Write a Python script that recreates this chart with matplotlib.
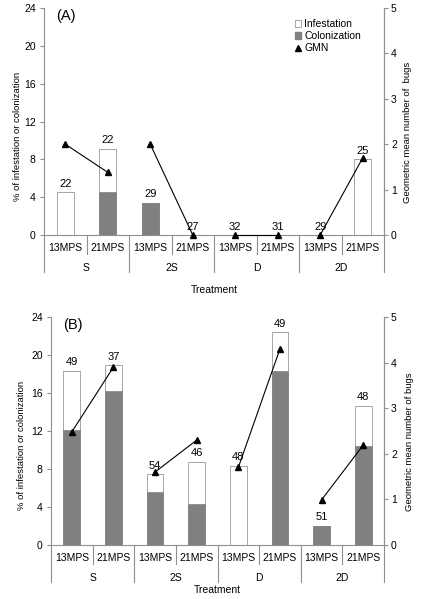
import numpy as np
import matplotlib
matplotlib.use("Agg")
import matplotlib.pyplot as plt
from matplotlib.patches import Patch
from matplotlib.lines import Line2D

plt.rcParams['font.family'] = ['Liberation Sans', 'DejaVu Sans']

groups = ["S", "2S", "D", "2D"]
stages = ["13MPS", "21MPS"]

# panel A
infest_a = [4.5, 9.1, 3.4, 0, 0, 0, 0, 8.0]
colon_a = [0, 4.5, 3.4, 0, 0, 0, 0, 0]
gmn_a = [2.0, 1.38, 2.0, 0, 0, 0, 0, 1.7]
n_a = [22, 22, 29, 27, 32, 31, 29, 25]

# panel B
infest_b = [18.35, 18.95, 7.45, 8.75, 8.35, 22.4, 2.05, 14.65]
colon_b = [12.15, 16.25, 5.6, 4.3, 0, 18.35, 2.05, 10.45]
gmn_b = [2.48, 3.9, 1.6, 2.3, 1.7, 4.3, 0.99, 2.19]
n_b = [49, 37, 54, 46, 48, 49, 51, 48]

W, H = 422, 599
grey = "#808080"
edge = "#a6a6a6"
axc = "#909090"

fig = plt.figure(figsize=(W / 100, H / 100), dpi=100)


def panel(rect_px, infest, colon, gmn, nlab, tag, rlabel, ylab_px, rlab_px, treat_dy, legend=False):
    x0, y_top, x1, y_bot = rect_px
    ax = fig.add_axes([x0 / W, (H - y_bot) / H, (x1 - x0) / W, (y_bot - y_top) / H])
    ax_h = y_bot - y_top
    x = np.arange(len(infest))
    ax.bar(x, infest, width=0.4, color="white", edgecolor=edge, linewidth=0.7, zorder=2)
    ax.bar(x, colon, width=0.4, color=grey, edgecolor=grey, linewidth=0.5, zorder=3)
    for xi, top, lab in zip(x, infest, nlab):
        ax.annotate(str(lab), (xi, top), xytext=(0, 2.5), textcoords="offset points",
                    ha="center", va="bottom", fontsize=8, zorder=6)
    ax.set_xlim(-0.5, len(infest) - 0.5)
    ax.set_ylim(0, 24)
    ax.set_yticks(np.arange(0, 25, 4))
    ax.set_xticks([])
    ax.spines["top"].set_visible(False)
    for s in ["left", "bottom", "right"]:
        ax.spines[s].set_color(axc)
        ax.spines[s].set_linewidth(0.8)
    ax.tick_params(axis="y", direction="out", length=3, width=0.8, color=axc,
                   labelsize=7.5, pad=3)

    ax2 = ax.twinx()
    ax2.set_ylim(0, 5)
    ax2.set_yticks(range(6))
    for s in ["top", "left", "bottom"]:
        ax2.spines[s].set_visible(False)
    ax2.spines["right"].set_color(axc)
    ax2.spines["right"].set_linewidth(0.8)
    ax2.tick_params(axis="y", direction="out", length=3, width=0.8, color=axc,
                    labelsize=7.5, pad=2)
    for g in range(len(groups)):
        xs = x[2 * g:2 * g + 2]
        ys = gmn[2 * g:2 * g + 2]
        ax2.plot(xs, ys, color="black", lw=0.8, marker="^", ms=5,
                 clip_on=False, zorder=5)

    # multi-level category axis
    trans = ax.get_xaxis_transform()
    for i in range(len(infest) + 1):
        bx = i - 0.5
        dy = 37 if i % 2 == 0 else 19
        ax.plot([bx, bx], [0, -dy / ax_h], transform=trans, color=axc, lw=0.8, clip_on=False)
    for xi in x:
        ax.text(xi, -13 / ax_h, stages[xi % 2], transform=trans, ha="center", va="center",
                fontsize=7.5)
    for g, name in enumerate(groups):
        ax.text(2 * g + 0.5, -33 / ax_h, name, transform=trans, ha="center", va="center",
                fontsize=7.5)
    ax.text(0.5, -treat_dy / ax_h, "Treatment", transform=ax.transAxes, ha="center",
            va="center", fontsize=7.5)
    ax.text(0.035, 0.965, tag, transform=ax.transAxes, ha="left", va="center", fontsize=10.5)

    fig.text(ylab_px[0] / W, (H - ylab_px[1]) / H, "% of infestation or colonization",
             rotation=90, ha="center", va="center", fontsize=6.8)
    fig.text(rlab_px[0] / W, (H - rlab_px[1]) / H, rlabel,
             rotation=90, ha="center", va="center", fontsize=6.8)

    if legend:
        handles = [Patch(facecolor="white", edgecolor=edge, linewidth=0.7),
                   Patch(facecolor=grey, edgecolor=grey),
                   Line2D([], [], color="black", marker="^", ls="none", ms=5)]
        ax2.legend(handles, ["Infestation", "Colonization", "GMN"], loc="upper left",
                   bbox_to_anchor=(295 / W, (H - 19) / H), bbox_transform=fig.transFigure,
                   frameon=False, fontsize=7.5, handlelength=0.6, handleheight=0.6,
                   handletextpad=0.3, labelspacing=0.2, borderpad=0, borderaxespad=0)
    return ax


panel((44, 8, 384, 235), infest_a, colon_a, gmn_a, n_a, "(A)",
      "Geometric mean number of  bugs", (18, 136), (407, 132), 55, legend=True)
panel((51, 317, 384, 545), infest_b, colon_b, gmn_b, n_b, "(B)",
      "Geometric mean number of bugs", (22, 445), (410, 442), 45)

fig.savefig("out.png", dpi=100)
